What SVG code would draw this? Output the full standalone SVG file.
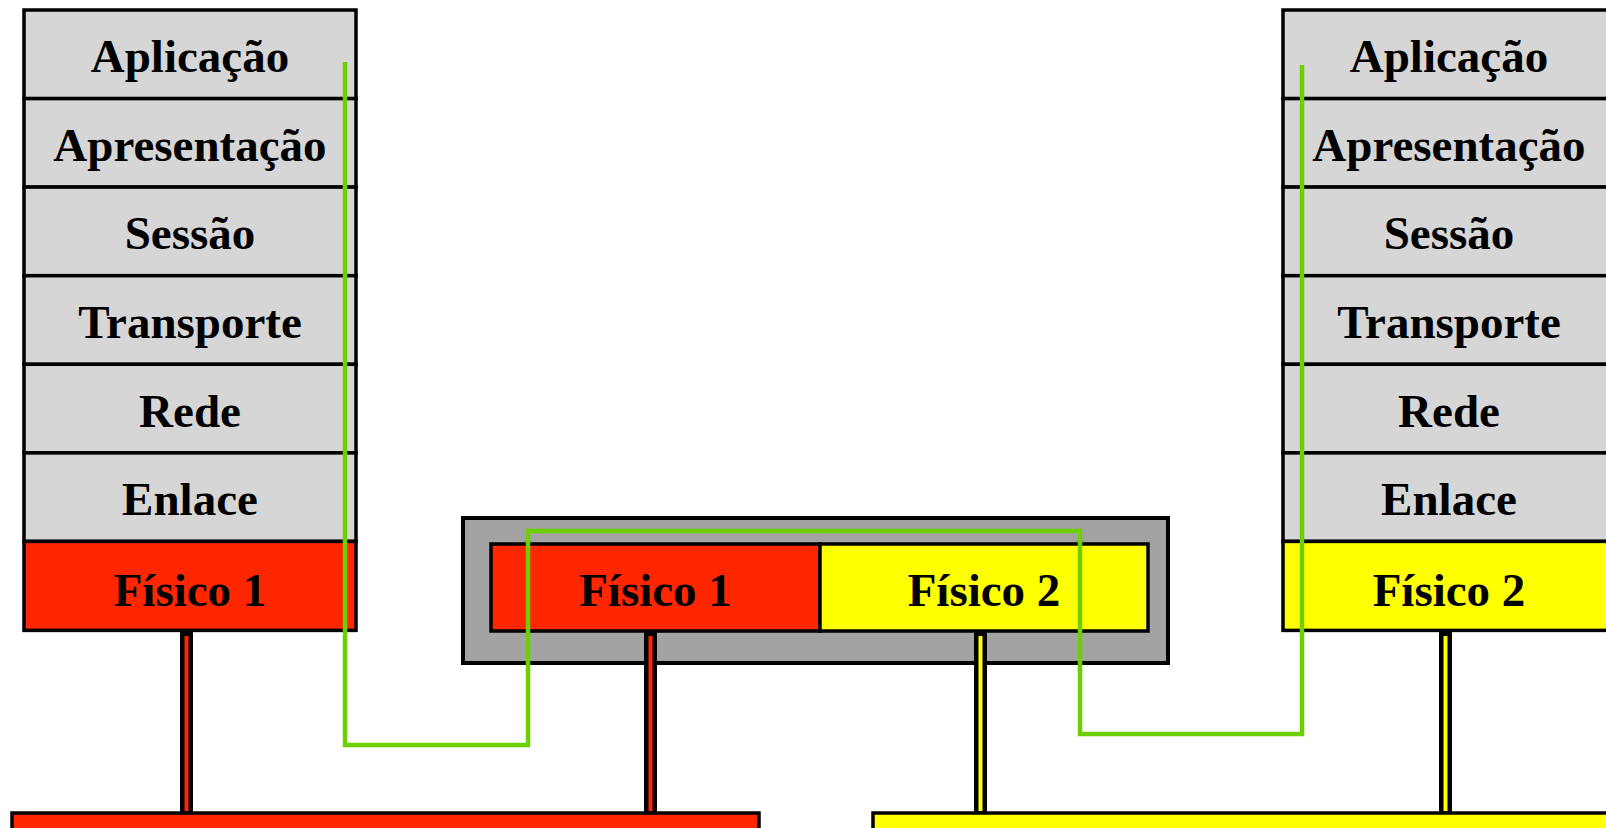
<svg xmlns="http://www.w3.org/2000/svg" width="1606" height="828" viewBox="0 0 1606 828">
<style>
.layer{fill:#d6d6d6;stroke:#000;stroke-width:3.5}
.red{fill:#ff2600;stroke:#000;stroke-width:3.5}
.yel{fill:#ffff00;stroke:#000;stroke-width:3.5}
.lbl{font-family:"Liberation Serif","Times New Roman",serif;font-weight:bold;font-size:47px;text-anchor:middle;fill:#000}
.green{fill:none;stroke:#6ccf00;stroke-width:4.5}
</style>
<rect width="1606" height="828" fill="#fff"/>
<g id="stack-left">
<rect class="layer" x="24" y="10" width="332" height="88.6"/>
<rect class="layer" x="24" y="98.6" width="332" height="88.5"/>
<rect class="layer" x="24" y="187.1" width="332" height="88.6"/>
<rect class="layer" x="24" y="275.7" width="332" height="88.6"/>
<rect class="layer" x="24" y="364.3" width="332" height="88.6"/>
<rect class="layer" x="24" y="452.9" width="332" height="88.5"/>
<rect class="red" x="24" y="541.4" width="332" height="89"/>
<text class="lbl" x="190" y="72">Aplicação</text>
<text class="lbl" x="190" y="161">Apresentação</text>
<text class="lbl" x="190" y="249">Sessão</text>
<text class="lbl" x="190" y="338">Transporte</text>
<text class="lbl" x="190" y="427">Rede</text>
<text class="lbl" x="190" y="515">Enlace</text>
<text class="lbl" x="190" y="606">Físico 1</text>
</g>
<g id="stack-right">
<rect class="layer" x="1283" y="10" width="332" height="88.6"/>
<rect class="layer" x="1283" y="98.6" width="332" height="88.5"/>
<rect class="layer" x="1283" y="187.1" width="332" height="88.6"/>
<rect class="layer" x="1283" y="275.7" width="332" height="88.6"/>
<rect class="layer" x="1283" y="364.3" width="332" height="88.6"/>
<rect class="layer" x="1283" y="452.9" width="332" height="88.5"/>
<rect class="yel" x="1283" y="541.4" width="332" height="89"/>
<text class="lbl" x="1449" y="72">Aplicação</text>
<text class="lbl" x="1449" y="161">Apresentação</text>
<text class="lbl" x="1449" y="249">Sessão</text>
<text class="lbl" x="1449" y="338">Transporte</text>
<text class="lbl" x="1449" y="427">Rede</text>
<text class="lbl" x="1449" y="515">Enlace</text>
<text class="lbl" x="1449" y="606">Físico 2</text>
</g>
<g id="router">
<rect x="463" y="518" width="705" height="145" fill="#a3a3a3" stroke="#000" stroke-width="4"/>
<rect class="red" x="491" y="544" width="329" height="87"/>
<rect class="yel" x="820" y="544" width="328" height="87"/>
<text class="lbl" x="655.5" y="606">Físico 1</text>
<text class="lbl" x="984" y="606">Físico 2</text>
</g>
<g id="network-1">
<rect class="red" x="12" y="813" width="747" height="30" stroke-width="5"/>
</g>
<g id="network-2">
<rect class="yel" x="873" y="813" width="760" height="30" stroke-width="5"/>
</g>
<g id="connectors">
<rect x="180" y="631" width="13" height="182" fill="#000"/>
<rect x="184.5" y="636" width="4" height="175" fill="#ff2600"/>
<rect x="644" y="631" width="13" height="182" fill="#000"/>
<rect x="648.5" y="636" width="4" height="175" fill="#ff2600"/>
<rect x="974" y="631" width="13" height="182" fill="#000"/>
<rect x="978.5" y="636" width="4" height="175" fill="#ffff00"/>
<rect x="1439" y="631" width="13" height="182" fill="#000"/>
<rect x="1443.5" y="636" width="4" height="175" fill="#ffff00"/>
<polyline class="green" points="345,62 345,745 528,745 528,531 1080,531 1080,734 1302,734 1302,65"/>
</g>
</svg>
